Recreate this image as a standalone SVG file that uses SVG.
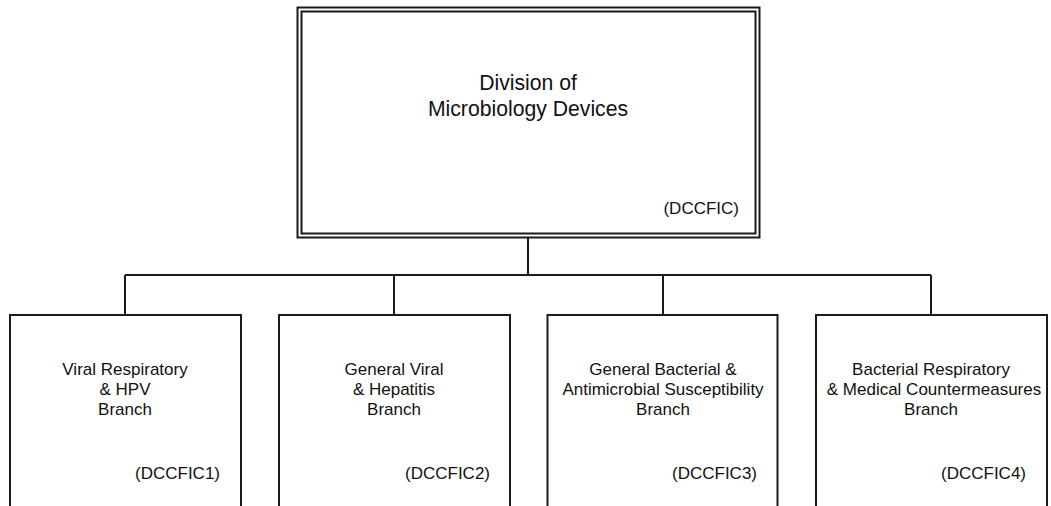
<svg xmlns="http://www.w3.org/2000/svg" width="1051" height="506" viewBox="0 0 1051 506">
<style>
.box{fill:#fff;stroke:#1a1a1a;stroke-width:2}
.conn{fill:none;stroke:#1a1a1a;stroke-width:2}
text{font-family:"Liberation Sans",Arial,sans-serif;fill:#111}
.t{font-size:21.2px;text-anchor:middle}
.l{font-size:17px;text-anchor:middle}
.c{font-size:17px;text-anchor:end}
</style>
<rect width="1051" height="506" fill="#fff"/>
<g id="connectors">
<path class="conn" d="M528,238V275M125,275H931M125,275V315M394,275V315M663,275V315M931,275V315"/>
</g>
<g id="division">
<rect class="box" x="297.5" y="7.5" width="462" height="230"/>
<rect class="box" x="301.5" y="11.5" width="454" height="222"/>
<text class="t" x="528" y="90">Division of</text>
<text class="t" x="528" y="116">Microbiology Devices</text>
<text class="c" x="739" y="214">(DCCFIC)</text>
</g>
<g id="branch1">
<rect class="box" x="10" y="315" width="231" height="210"/>
<text class="l" x="125" y="375">Viral Respiratory</text>
<text class="l" x="125" y="395">&amp; HPV</text>
<text class="l" x="125" y="415">Branch</text>
<text class="c" x="220" y="479">(DCCFIC1)</text>
</g>
<g id="branch2">
<rect class="box" x="279" y="315" width="231" height="210"/>
<text class="l" x="394" y="375">General Viral</text>
<text class="l" x="394" y="395">&amp; Hepatitis</text>
<text class="l" x="394" y="415">Branch</text>
<text class="c" x="490" y="479">(DCCFIC2)</text>
</g>
<g id="branch3">
<rect class="box" x="547.5" y="315" width="230" height="210"/>
<text class="l" x="663" y="375">General Bacterial &amp;</text>
<text class="l" x="663" y="395">Antimicrobial Susceptibility</text>
<text class="l" x="663" y="415">Branch</text>
<text class="c" x="757" y="479">(DCCFIC3)</text>
</g>
<g id="branch4">
<rect class="box" x="816" y="315" width="231" height="210"/>
<text class="l" x="931" y="375">Bacterial Respiratory</text>
<text class="l" x="934" y="395">&amp; Medical Countermeasures</text>
<text class="l" x="931" y="415">Branch</text>
<text class="c" x="1026" y="479">(DCCFIC4)</text>
</g>
</svg>
